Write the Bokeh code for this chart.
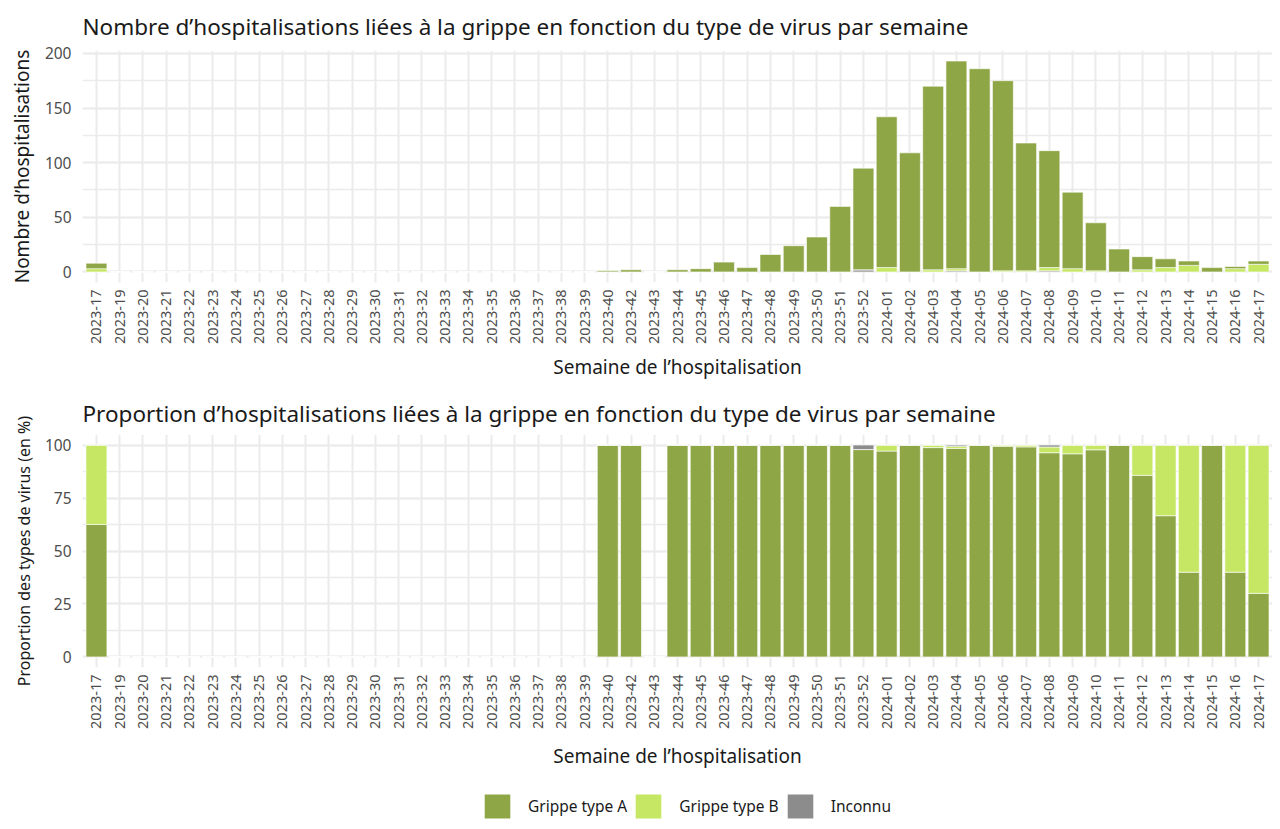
import math
import numpy as np
from bokeh.plotting import figure
from bokeh.layouts import column
from bokeh.models import (ColumnDataSource, FactorRange, Range1d, SingleIntervalTicker,
                          Legend, LegendItem, Title)
from bokeh.embed import file_html
from bokeh.resources import INLINE

weeks = ["2023-17", "2023-19", "2023-20", "2023-21", "2023-22", "2023-23", "2023-24",
         "2023-25", "2023-26", "2023-27", "2023-28", "2023-29", "2023-30", "2023-31",
         "2023-32", "2023-33", "2023-34", "2023-35", "2023-36", "2023-37", "2023-38",
         "2023-39", "2023-40", "2023-42", "2023-43", "2023-44", "2023-45", "2023-46",
         "2023-47", "2023-48", "2023-49", "2023-50", "2023-51", "2023-52", "2024-01",
         "2024-02", "2024-03", "2024-04", "2024-05", "2024-06", "2024-07", "2024-08",
         "2024-09", "2024-10", "2024-11", "2024-12", "2024-13", "2024-14", "2024-15",
         "2024-16", "2024-17"]

grippe_a = [5, 0, 0, 0, 0, 0, 0, 0, 0, 0, 0, 0, 0, 0, 0, 0, 0, 0, 0, 0, 0, 0,
            1, 2, 0, 2, 3, 9, 4, 16, 24, 32, 60, 93, 138, 109, 168, 190, 186, 174,
            117, 107, 70, 44, 21, 12, 8, 4, 4, 2, 3]
grippe_b = [3, 0, 0, 0, 0, 0, 0, 0, 0, 0, 0, 0, 0, 0, 0, 0, 0, 0, 0, 0, 0, 0,
            0, 0, 0, 0, 0, 0, 0, 0, 0, 0, 0, 0, 4, 0, 2, 2, 0, 1,
            1, 3, 3, 1, 0, 2, 4, 6, 0, 3, 7]
inconnu = [0, 0, 0, 0, 0, 0, 0, 0, 0, 0, 0, 0, 0, 0, 0, 0, 0, 0, 0, 0, 0, 0,
           0, 0, 0, 0, 0, 0, 0, 0, 0, 0, 0, 2, 0, 0, 0, 1, 0, 0,
           0, 1, 0, 0, 0, 0, 0, 0, 0, 0, 0]

series_labels = ["Grippe type A", "Grippe type B", "Inconnu"]
colors = ["#8FA646", "#C5E763", "#8C8C8C"]

a = np.array(grippe_a, dtype=float)
b = np.array(grippe_b, dtype=float)
u = np.array(inconnu, dtype=float)
tot = a + b + u
safe = np.where(tot > 0, tot, 1)
src = ColumnDataSource(dict(week=weeks, A=a, B=b, U=u,
                            pA=a / safe * 100, pB=b / safe * 100, pU=u / safe * 100))

FONT = "Noto Sans"
W = 1272
GRID = "#ebebeb"
DARK = "#1a1a1a"


def style(p, title, ylab, ylab_size, interval, standoff, xlab_standoff):
    p.title.text = title
    p.title.text_font = FONT
    p.title.text_font_size = "22.5px"
    p.title.text_font_style = "normal"
    p.title.text_color = DARK
    p.title.offset = 0
    p.title.standoff = standoff
    p.outline_line_color = None
    p.background_fill_color = "white"
    p.border_fill_color = "white"
    p.xgrid.grid_line_color = GRID
    p.xgrid.grid_line_width = 2
    p.ygrid.grid_line_color = GRID
    p.ygrid.grid_line_width = 2
    p.ygrid.minor_grid_line_color = GRID
    p.ygrid.minor_grid_line_width = 1.5
    p.yaxis.ticker = SingleIntervalTicker(interval=interval, num_minor_ticks=2)
    for ax in (p.xaxis[0], p.yaxis[0]):
        ax.axis_line_color = None
        ax.major_tick_line_color = None
        ax.minor_tick_line_color = None
        ax.major_tick_out = 0
        ax.major_tick_in = 0
        ax.major_label_text_font = FONT
        ax.major_label_text_color = "#4d4d4d"
    p.yaxis.major_label_text_font_size = "15.5px"
    p.xaxis.major_label_text_font_size = "14.5px"
    p.xaxis.major_label_orientation = math.pi / 2
    p.xaxis.major_label_standoff = 7
    p.yaxis.major_label_standoff = 7
    xt = Title(text="Semaine de l\u2019hospitalisation", align="center", text_font=FONT,
               text_font_size="19px", text_font_style="normal", text_color=DARK,
               standoff=xlab_standoff)
    p.add_layout(xt, "below")
    yt = Title(text=ylab, align="center", text_font=FONT, text_font_size=ylab_size,
               text_font_style="normal", text_color=DARK, standoff=13)
    p.add_layout(yt, "left")


def make_range():
    return FactorRange(*weeks, range_padding=0.1, range_padding_units="absolute")


p1 = figure(width=W, height=390, output_backend="svg", toolbar_location=None,
            x_range=make_range(), y_range=Range1d(-9.65, 202.65),
            min_border=0, min_border_top=50, min_border_left=74, min_border_right=0,
            min_border_bottom=108)
style(p1, "Nombre d\u2019hospitalisations li\u00e9es \u00e0 la grippe en fonction du type de virus par semaine",
      "Nombre d\u2019hospitalisations", "19px", 50, 17, 11)
p1.vbar_stack(["U", "B", "A"], x="week", width=0.9, source=src,
              fill_color=[colors[2], colors[1], colors[0]], line_color="white", line_width=0.6)

p2 = figure(width=W, height=401, output_backend="svg", toolbar_location=None,
            x_range=make_range(), y_range=Range1d(-5, 105),
            min_border=0, min_border_top=44, min_border_left=74, min_border_right=0,
            min_border_bottom=124)
style(p2, "Proportion d\u2019hospitalisations li\u00e9es \u00e0 la grippe en fonction du type de virus par semaine",
      "Proportion des types de virus (en %)", "16px", 25, 11, 18)
p2.vbar_stack(["pA", "pB", "pU"], x="week", width=0.9, source=src,
              fill_color=[colors[0], colors[1], colors[2]], line_color="white", line_width=0.6)

# legend strip (renderers reuse the data but sit far outside the visible range)
p3 = figure(width=W, height=30, output_backend="svg", toolbar_location=None,
            x_range=make_range(), y_range=Range1d(1000, 1001),
            x_axis_location=None, y_axis_location=None,
            min_border=0, min_border_left=74, min_border_right=0)
p3.outline_line_color = None
p3.xgrid.visible = False
p3.ygrid.visible = False
rs = p3.vbar_stack(["A", "B", "U"], x="week", width=0.9, source=src,
                   fill_color=colors, line_color=None)
items = [LegendItem(label=lab, renderers=[r]) for lab, r in zip(series_labels, rs)]
leg = Legend(items=items, orientation="horizontal", location=(399, 0),
             glyph_width=32, glyph_height=30, label_standoff=15, spacing=5,
             label_text_font=FONT, label_text_font_size="15.5px", label_text_color=DARK,
             border_line_color=None, background_fill_alpha=0, padding=0, margin=0)
p3.add_layout(leg)

layout = column(p1, p2, p3, spacing=0)
open("out.html", "w").write(file_html(layout, INLINE))
